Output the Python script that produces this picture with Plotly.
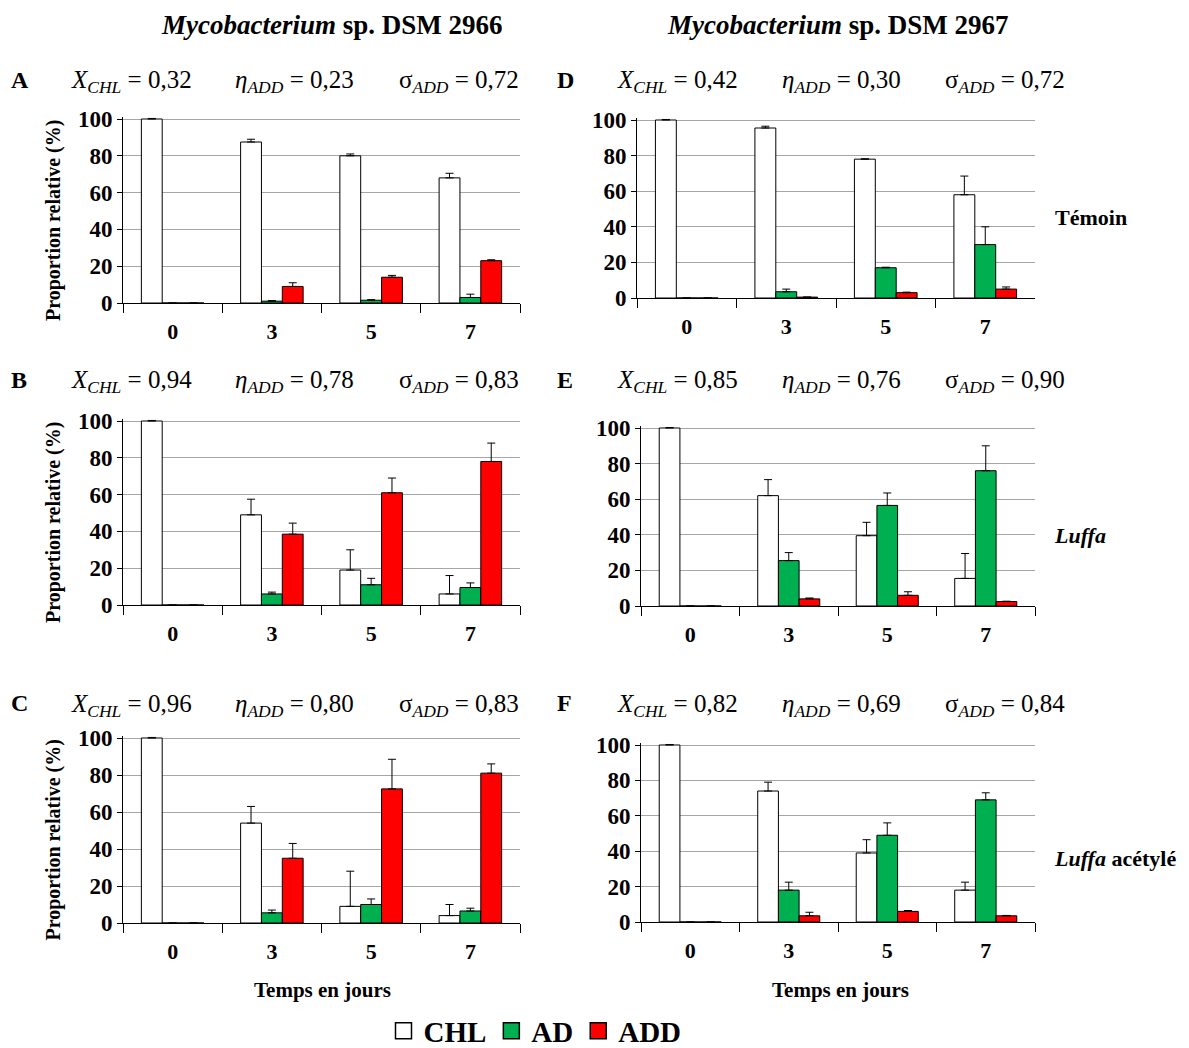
import plotly.graph_objects as go

W, H = 1189, 1048
PAGE_PAD = 8  # default body margin of the html page

days = ["0", "3", "5", "7"]
series_names = ["CHL", "AD", "ADD"]
bar_colors = ["#FFFFFF", "#00B050", "#FF0000"]

# Mycobacterium sp. DSM 2966
a_chl = [100, 87.5, 80, 68]
a_chl_err = [0.3, 1.5, 1, 2.5]
a_ad = [0, 1, 1.5, 3]
a_ad_err = [0, 0.3, 0.3, 1.8]
a_add = [0, 9, 14, 23]
a_add_err = [0, 2, 1, 0.5]

b_chl = [100, 49, 19, 6]
b_chl_err = [0.3, 8.5, 11, 10]
b_ad = [0, 6, 11, 9.5]
b_ad_err = [0, 1, 3.5, 2.5]
b_add = [0, 38.5, 61, 78]
b_add_err = [0, 6, 8, 10]

c_chl = [100, 54, 9, 4]
c_chl_err = [0.3, 9, 19, 6]
c_ad = [0, 5.5, 10, 6.5]
c_ad_err = [0, 1.5, 3, 1.5]
c_add = [0, 35, 72.5, 81]
c_add_err = [0, 8, 16, 5]

# Mycobacterium sp. DSM 2967
d_chl = [100, 95.5, 78, 58]
d_chl_err = [0.3, 1, 0.2, 10.5]
d_ad = [0, 3.5, 17, 30]
d_ad_err = [0, 1.5, 0.3, 10]
d_add = [0, 0.5, 3, 5]
d_add_err = [0, 0, 0.3, 1.2]

e_chl = [100, 62, 39.5, 15.5]
e_chl_err = [0.3, 9, 7.5, 14]
e_ad = [0, 25.5, 56.5, 76]
e_ad_err = [0, 4.5, 7, 14]
e_add = [0, 4, 6, 2.5]
e_add_err = [0, 0.5, 2, 0.2]

f_chl = [100, 74, 39, 18]
f_chl_err = [0.3, 5, 7.5, 4.5]
f_ad = [0, 18, 49, 69]
f_ad_err = [0, 4.5, 7, 4]
f_add = [0, 3.5, 6, 3.5]
f_add_err = [0, 2, 0.5, 0.2]

# panel letter -> X_CHL, eta_ADD, sigma_ADD
stats = {
    "A": ("0,32", "0,23", "0,72"),
    "B": ("0,94", "0,78", "0,83"),
    "C": ("0,96", "0,80", "0,83"),
    "D": ("0,42", "0,30", "0,72"),
    "E": ("0,85", "0,76", "0,90"),
    "F": ("0,82", "0,69", "0,84"),
}

def px(x):
    return (x - PAGE_PAD) / W

def py(y):
    return 1 - (y - PAGE_PAD) / H

FONT = "Liberation Serif"

def note(text, x, y, size, xanchor="center", angle=0):
    return dict(text=text, x=px(x), y=py(y), xref="paper", yref="paper",
                xanchor=xanchor, yanchor="middle", showarrow=False, textangle=angle,
                font=dict(family=FONT, size=size, color="black"))

# letter, data, (x left, x right, y at 100, y at 0) in pixels, stats row y, left column?
panels = [
    ("A", [(a_chl, a_chl_err), (a_ad, a_ad_err), (a_add, a_add_err)], (123, 520, 119, 303), 80, True),
    ("B", [(b_chl, b_chl_err), (b_ad, b_ad_err), (b_add, b_add_err)], (123, 520, 421, 605), 380, True),
    ("C", [(c_chl, c_chl_err), (c_ad, c_ad_err), (c_add, c_add_err)], (123, 520, 738, 923), 703, True),
    ("D", [(d_chl, d_chl_err), (d_ad, d_ad_err), (d_add, d_add_err)], (637, 1035, 120, 298), 80, False),
    ("E", [(e_chl, e_chl_err), (e_ad, e_ad_err), (e_add, e_add_err)], (641, 1035, 428, 606), 380, False),
    ("F", [(f_chl, f_chl_err), (f_ad, f_ad_err), (f_add, f_add_err)], (641, 1035, 745, 922), 703, False),
]

fig = go.Figure()
annotations = []
layout_axes = {}
YMAX = 101

for i, (letter, series, (x0, x1, y100, y0), row_y, left) in enumerate(panels):
    n = "" if i == 0 else str(i + 1)
    ytop = y0 - (y0 - y100) * YMAX / 100
    for (vals, err), name, col in zip(series, series_names, bar_colors):
        fig.add_trace(go.Bar(
            x=days, y=vals, name=name, showlegend=False,
            marker=dict(color=col, line=dict(color="black", width=1)),
            error_y=dict(type="data", symmetric=False, array=err,
                         arrayminus=[0] * len(err), color="black",
                         thickness=1, width=4),
            xaxis="x" + n, yaxis="y" + n,
        ))
    layout_axes["xaxis" + n] = dict(
        domain=[px(x0), px(x1)], anchor="y" + n, type="category",
        showline=True, linecolor="black", linewidth=1,
        ticks="outside", tickson="boundaries", ticklen=9, tickcolor="black",
        showgrid=False, ticklabelstandoff=9,
        tickfont=dict(family=FONT, size=22, color="black", weight="bold"),
    )
    layout_axes["yaxis" + n] = dict(
        domain=[py(y0), py(ytop)], anchor="x" + n, range=[0, YMAX],
        tickvals=[0, 20, 40, 60, 80, 100],
        showline=True, linecolor="black", linewidth=1,
        ticks="outside", ticklen=5, tickcolor="black",
        showgrid=True, gridcolor="#A6A6A6", gridwidth=1.3, zeroline=False,
        tickfont=dict(family=FONT, size=23, color="black", weight="bold"),
    )

    # stats line
    xs = stats[letter]
    lx = 9 if left else 555
    sx = [69, 233, 397] if left else [615, 780, 943]
    annotations.append(note("<b>%s</b>" % letter, lx, row_y, 24, "left"))
    texts = [
        "<i>X</i><sub><i>CHL</i></sub> = %s" % xs[0],
        "<i>η</i><sub><i>ADD</i></sub> = %s" % xs[1],
        "σ<sub><i>ADD</i></sub> = %s" % xs[2],
    ]
    for t, xx in zip(texts, sx):
        annotations.append(note(t, xx, row_y + 2, 25, "left"))
    if left:
        annotations.append(note("<b>Proportion relative (%)</b>", 53,
                                (y100 + y0) / 2 + 9, 20, "center", -90))

# column titles
annotations.append(note("<b><i>Mycobacterium</i> sp. DSM 2966</b>", 332, 25, 27))
annotations.append(note("<b><i>Mycobacterium</i> sp. DSM 2967</b>", 838, 25, 27))

# row labels on the right
for t, xx, yy in [("<b>Témoin</b>", 1053, 218),
                  ("<b><i>Luffa</i></b>", 1052, 535),
                  ("<b><i>Luffa</i> acétylé</b>", 1052, 858)]:
    annotations.append(note(t, xx, yy, 22, "left"))

# x titles
for xx in [322, 840]:
    annotations.append(note("<b>Temps en jours</b>", xx, 990, 21))

# legend entries
layout_axes["xaxis7"] = dict(domain=[0, 0.01], visible=False, anchor="y7")
layout_axes["yaxis7"] = dict(domain=[0, 0.01], visible=False, anchor="x7")
for name, col in zip(series_names, bar_colors):
    fig.add_trace(go.Scatter(
        x=[None], y=[None], mode="markers", name=name,
        marker=dict(symbol="square", size=16, color=col, line=dict(color="black", width=1.5)),
        xaxis="x7", yaxis="y7",
    ))

fig.update_layout(
    width=W, height=H,
    margin=dict(l=0, r=0, t=0, b=0, autoexpand=False),
    paper_bgcolor="white", plot_bgcolor="white",
    barmode="group", bargap=0.37, bargroupgap=0,
    annotations=annotations,
    showlegend=True,
    legend=dict(orientation="h", x=px(535), y=py(1031), xanchor="center", yanchor="middle",
                font=dict(family=FONT, size=29, color="black", weight="bold"),
                itemwidth=30, bgcolor="rgba(0,0,0,0)"),
    **layout_axes,
)

fig.write_html("out.html")
